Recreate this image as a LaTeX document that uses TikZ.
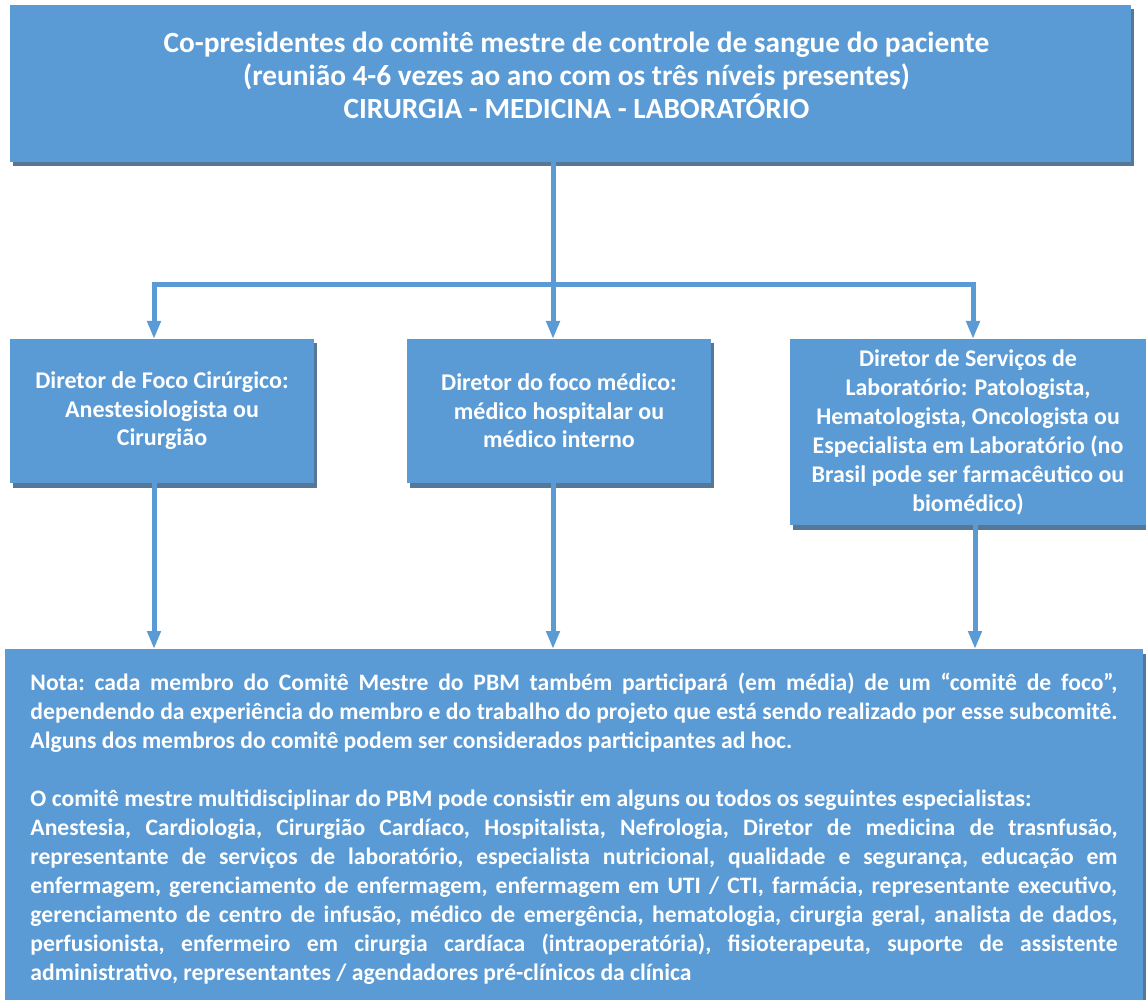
\documentclass[tikz,border=0pt]{standalone}
\usepackage{fontspec}
\setmainfont{Carlito}
\usetikzlibrary{arrows.meta,shadows}
\definecolor{boxblue}{RGB}{91,155,213}
\definecolor{shadowc}{RGB}{85,120,152}
\newcommand{\natsp}{\spaceskip=0pt\xspaceskip=0pt\frenchspacing}
\newcommand{\jline}[1]{{\natsp\makebox[1087pt][s]{#1}}}
\begin{document}
\begin{tikzpicture}[x=1pt,y=-1pt,
  box/.style={draw=none, fill=boxblue, text=white, inner sep=0pt, outer sep=0pt,
    anchor=north west, align=center,
    drop shadow={shadow xshift=3pt, shadow yshift=-4.5pt, fill=shadowc, opacity=1}},
  arr/.style={draw=boxblue, line width=5pt, -{Triangle[length=18pt,width=13pt]}},
  midfont/.style={font=\bfseries\fontsize{24}{28.5}\selectfont}]
\useasboundingbox (0,0) rectangle (1146,1000);

\node[box, minimum width=1121pt, minimum height=157pt,
  font=\bfseries\fontsize{29.3}{33}\selectfont] (top) at (10,5)
  {\natsp\hspace*{12pt}Co-presidentes do comitê mestre de controle de sangue do paciente\\
   \hspace*{12pt}(reunião 4-6 vezes ao ano com os três níveis presentes)\\
   \hspace*{12pt}CIRURGIA - MEDICINA - LABORATÓRIO\rule[-17pt]{0pt}{17pt}};

\node[box, midfont, minimum width=304pt, minimum height=144pt] (b1) at (10,339)
  {\natsp Diretor de Foco Cirúrgico:\\ Anestesiologista ou\\ Cirurgião};
\node[box, midfont, minimum width=304pt, minimum height=144pt] (b2) at (407,339)
  {\natsp Diretor do foco médico:\\ médico hospitalar ou\\ médico interno};
\node[box, font=\bfseries\fontsize{23.9}{29}\selectfont, minimum width=356pt, minimum height=186pt] (b3) at (790,339)
  {\natsp Diretor de Serviços de\\ Laboratório: Patologista,\\ Hematologista, Oncologista ou\\
   Especialista em Laboratório (no\\ Brasil pode ser farmacêutico ou\\ biomédico)};

\node[box, align=left, text width=1087pt, minimum width=1138pt, minimum height=359pt,
  font=\bfseries\fontsize{23.6}{29}\selectfont] (note) at (5,649)
  {\natsp\jline{Nota: cada membro do Comitê Mestre do PBM também participará (em média) de um “comitê de foco”,}\\
   \jline{dependendo da experiência do membro e do trabalho do projeto que está sendo realizado por esse subcomitê.}\\
   Alguns dos membros do comitê podem ser considerados participantes ad hoc.\\[29pt]
   O comitê mestre multidisciplinar do PBM pode consistir em alguns ou todos os seguintes especialistas:\\
   \jline{Anestesia, Cardiologia, Cirurgião Cardíaco, Hospitalista, Nefrologia, Diretor de medicina de trasnfusão,}\\
   \jline{representante de serviços de laboratório, especialista nutricional, qualidade e segurança, educação em}\\
   \jline{enfermagem, gerenciamento de enfermagem, enfermagem em UTI / CTI, farmácia, representante executivo,}\\
   \jline{gerenciamento de centro de infusão, médico de emergência, hematologia, cirurgia geral, analista de dados,}\\
   \jline{perfusionista, enfermeiro em cirurgia cardíaca (intraoperatória), fisioterapeuta, suporte de assistente}\\
   administrativo, representantes / agendadores pré-clínicos da clínica};

\coordinate (xa) at (154,0);
\coordinate (xb) at (553,0);
\coordinate (xc) at (973,0);
\coordinate (xd) at (975,0);
\coordinate (hub) at (553,285);

\draw[arr] (top.south -| xb) -- (b2.north -| xb);
\draw[arr] (hub) -| (b1.north -| xa);
\draw[arr] (hub) -| (b3.north -| xc);
\draw[arr] (b1.south -| xa) -- (note.north -| xa);
\draw[arr] (b2.south -| xb) -- (note.north -| xb);
\draw[arr] (b3.south -| xd) -- (note.north -| xd);
\end{tikzpicture}
\end{document}
